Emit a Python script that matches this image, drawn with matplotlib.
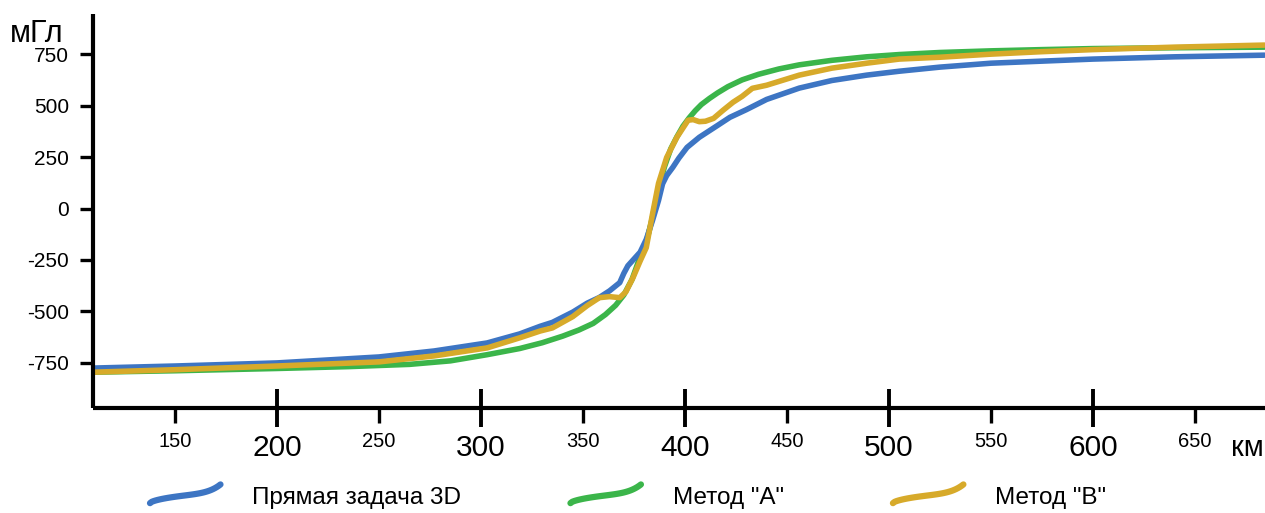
import numpy as np
import matplotlib
matplotlib.use("Agg")
import matplotlib.pyplot as plt
from matplotlib.lines import Line2D
from matplotlib.legend_handler import HandlerBase

plt.rcParams['font.family'] = ['Liberation Sans', 'DejaVu Sans']

# --- данные ---
x_a = [110, 150, 200, 235, 265, 285, 303, 319, 330, 340, 348, 355, 361, 366, 370,
       374, 377, 381, 384, 387, 390, 393, 396, 399, 402, 405, 408, 412, 416, 421,
       428, 436, 446, 456, 472, 489, 505, 525, 550, 575, 600, 640, 684]
y_a = [-795, -788, -777, -768, -757, -740, -710, -680, -652, -620, -590, -558, -515, -470, -420,
       -345, -262, -165, -45, 100, 205, 290, 348, 400, 440, 475, 505, 535, 562, 592,
       625, 652, 678, 698, 720, 737, 748, 758, 766, 772, 777, 781, 784]

x_3d = [110, 150, 200, 250, 277, 303, 319, 329, 335, 340, 345, 352, 358, 363, 368,
        370, 372, 375, 378, 381, 384, 387, 389, 391, 394, 397, 401, 407, 416, 422,
        430, 440, 456, 472, 489, 505, 525, 550, 575, 600, 640, 684]
y_3d = [-775, -765, -750, -721, -692, -653, -609, -572, -553, -528, -503, -460, -432, -400, -360,
        -315, -278, -245, -212, -150, -60, 39, 120, 160, 200, 245, 297, 346, 404, 443,
        480, 530, 585, 622, 648, 667, 687, 706, 716, 726, 737, 745]

x_b = [110, 150, 200, 250, 277, 303, 319, 329, 335, 345, 352, 358, 363, 368, 371,
       374.5, 378, 381, 384, 387, 391, 396, 401.5, 404, 407, 410, 414, 418.6, 423.5, 428,
       433, 440, 456, 472, 489, 505, 525, 550, 575, 600, 640, 684]
y_b = [-795, -783, -765, -745, -716, -677, -628, -595, -580, -525, -472, -433, -428, -433, -405,
       -336, -255, -190, -30, 122, 248, 346, 429, 432, 422, 424, 438, 477, 516, 545,
       584, 599, 648, 682, 706, 726, 735, 750, 762, 772, 784, 794]

major_x = [200, 300, 400, 500, 600]
minor_x = [150, 250, 350, 450, 550, 650]
y_ticks = [-750, -500, -250, 0, 250, 500, 750]

labels = ['Прямая задача 3D', 'Метод "A"', 'Метод "B"']
c_blue = '#3d75c3'
c_green = '#3bb54a'
c_yellow = '#d7aa2a'

W, H = 1265, 513
fig = plt.figure(figsize=(W / 100, H / 100), dpi=100)
ax = fig.add_axes([93 / W, (H - 408) / H, 1 - 93 / W, (408 - 14) / H])

kw = dict(lw=4.0, solid_capstyle='round', solid_joinstyle='round')
ax.plot(x_a, y_a, color=c_green, **kw)
ax.plot(x_3d, y_3d, color=c_blue, **kw)
ax.plot(x_b, y_b, color=c_yellow, **kw)

ax.set_xlim(109.8, 684.3)
ax.set_ylim(-969, 945)

for s in ['top', 'right']:
    ax.spines[s].set_visible(False)
for s in ['left', 'bottom']:
    ax.spines[s].set_linewidth(3)
    ax.spines[s].set_capstyle('butt')

ax.set_yticks(y_ticks)
ax.set_yticklabels([str(v) for v in y_ticks])
ax.tick_params(axis='y', direction='out', length=9.4, width=2.4, pad=8, labelsize=15)

ax.set_xticks(major_x)
ax.set_xticklabels([str(v) for v in major_x])
ax.set_xticks(minor_x, minor=True)
ax.set_xticklabels([str(v) for v in minor_x], minor=True)
ax.tick_params(axis='x', which='major', direction='inout', length=28, width=2.8, pad=5, labelsize=21.5)
ax.tick_params(axis='x', which='minor', direction='out', length=11, width=2.4, pad=6, labelsize=14.5)

fig.text(10 / W, 1 - 42 / H, 'мГл', fontsize=22, ha='left', va='baseline')
fig.text(1231 / W, 1 - 456 / H, 'км', fontsize=21, ha='left', va='baseline')


class WavyHandler(HandlerBase):
    # мазок легенды: слегка изогнутая линия, как в оригинале
    def create_artists(self, legend, orig_handle, xdescent, ydescent,
                       width, height, fontsize, trans):
        t = np.linspace(0, 1, 40)
        fy = -0.45 + 0.55 * np.sin(t * np.pi / 2) ** 0.6 + 0.55 * t ** 6
        xs = -xdescent + t * width
        ys = -ydescent + height / 2 + fy * height
        ln = Line2D(xs, ys, color=orig_handle.get_color(), lw=4.5,
                    solid_capstyle='round', solid_joinstyle='round')
        ln.set_transform(trans)
        return [ln]


handles = [Line2D([], [], color=c) for c in [c_blue, c_green, c_yellow]]
fig.legend(handles, labels, loc='center left', bbox_to_anchor=(150 / W, 1 - 498 / H),
           ncol=3, frameon=False, fontsize=17.5, borderpad=0, borderaxespad=0,
           handlelength=2.9, handletextpad=1.3, columnspacing=4.5,
           handler_map={Line2D: WavyHandler()})

fig.savefig('out.png', dpi=100)
